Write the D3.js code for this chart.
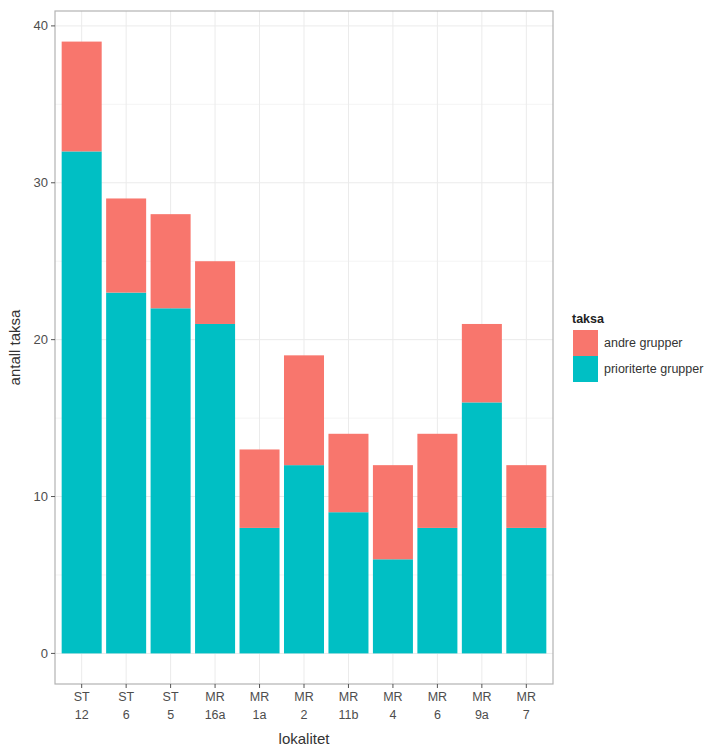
<!DOCTYPE html>
<html><head><meta charset="utf-8">
<script src="https://cdn.jsdelivr.net/npm/d3@7"></script>
<style>body{margin:0;background:#fff}text{font-family:"Liberation Sans",Arial,sans-serif}</style>
</head><body><svg id="c" width="718" height="749"></svg>
<script>
const categories = ["ST\n12","ST\n6","ST\n5","MR\n16a","MR\n1a","MR\n2","MR\n11b","MR\n4","MR\n6","MR\n9a","MR\n7"];
const prioriterte = [32,23,22,21,8,12,9,6,8,16,8];
const andre = [7,6,6,4,5,7,5,6,6,5,4];
const yTicks = [0,10,20,30,40];
const yMinor = [5,15,25,35];
const seriesNames = ["andre grupper","prioriterte grupper"];
const colors = ["#F8766D","#00BFC4"];

const svg = d3.select("#c");
const L=55,R=553,T=11,B=684;
const step=(R-L)/11.2;
const x = d3.scalePoint().domain(categories).range([L+step*0.6,R-step*0.6]);
const y = d3.scaleLinear().domain([-1.95,40.95]).range([B,T]);

svg.append("rect").attr("x",L).attr("y",T).attr("width",R-L).attr("height",B-T).attr("fill","#fff");
svg.selectAll(".mg").data(yMinor).enter().append("line").attr("x1",L).attr("x2",R)
 .attr("y1",d=>y(d)).attr("y2",d=>y(d)).attr("stroke","#f4f4f4").attr("stroke-width",1);
svg.selectAll(".gy").data(yTicks).enter().append("line").attr("x1",L).attr("x2",R)
 .attr("y1",d=>y(d)).attr("y2",d=>y(d)).attr("stroke","#ebebeb").attr("stroke-width",1);
svg.selectAll(".gx").data(categories).enter().append("line").attr("y1",T).attr("y2",B)
 .attr("x1",d=>x(d)).attr("x2",d=>x(d)).attr("stroke","#ebebeb").attr("stroke-width",1);

const bw = step*0.9;
const g = svg.append("g");
categories.forEach((c,i)=>{
  g.append("rect").attr("x",x(c)-bw/2).attr("width",bw).attr("y",y(prioriterte[i])).attr("height",y(0)-y(prioriterte[i])).attr("fill",colors[1]);
  const top = prioriterte[i]+andre[i];
  g.append("rect").attr("x",x(c)-bw/2).attr("width",bw).attr("y",y(top)).attr("height",y(prioriterte[i])-y(top)).attr("fill",colors[0]);
});

svg.append("rect").attr("x",L).attr("y",T).attr("width",R-L).attr("height",B-T).attr("fill","none").attr("stroke","#b3b3b3").attr("stroke-width",1.2);

yTicks.forEach(v=>{
  svg.append("line").attr("x1",L-4).attr("x2",L).attr("y1",y(v)).attr("y2",y(v)).attr("stroke","#555");
  svg.append("text").attr("x",L-7).attr("y",y(v)).attr("dy","0.35em").attr("text-anchor","end").attr("font-size",13).attr("fill","#4d4d4d").text(v);
});
categories.forEach((c,i)=>{
  svg.append("line").attr("x1",x(c)).attr("x2",x(c)).attr("y1",B).attr("y2",B+4).attr("stroke","#555");
  c.split("\n").forEach((t,j)=>{
    svg.append("text").attr("x",x(c)).attr("y",B+17+j*18).attr("text-anchor","middle").attr("font-size",12.5).attr("fill","#4d4d4d").text(t);
  });
});
svg.append("text").attr("x",(L+R)/2).attr("y",744).attr("text-anchor","middle").attr("font-size",15).attr("fill","#333").text("lokalitet");
svg.append("text").attr("transform",`translate(20,${(T+B)/2}) rotate(-90)`).attr("text-anchor","middle").attr("font-size",15).attr("fill","#333").text("antall taksa");

const lg = svg.append("g");
lg.append("text").attr("x",572).attr("y",323).attr("font-size",12.5).attr("font-weight","bold").attr("fill","#222").text("taksa");
seriesNames.forEach((n,i)=>{
  lg.append("rect").attr("x",573).attr("y",330+i*26).attr("width",25).attr("height",26).attr("fill",colors[i]);
  lg.append("text").attr("x",604).attr("y",343+i*26).attr("dy","0.35em").attr("font-size",12.5).attr("fill","#333").text(n);
});
</script></body></html>
